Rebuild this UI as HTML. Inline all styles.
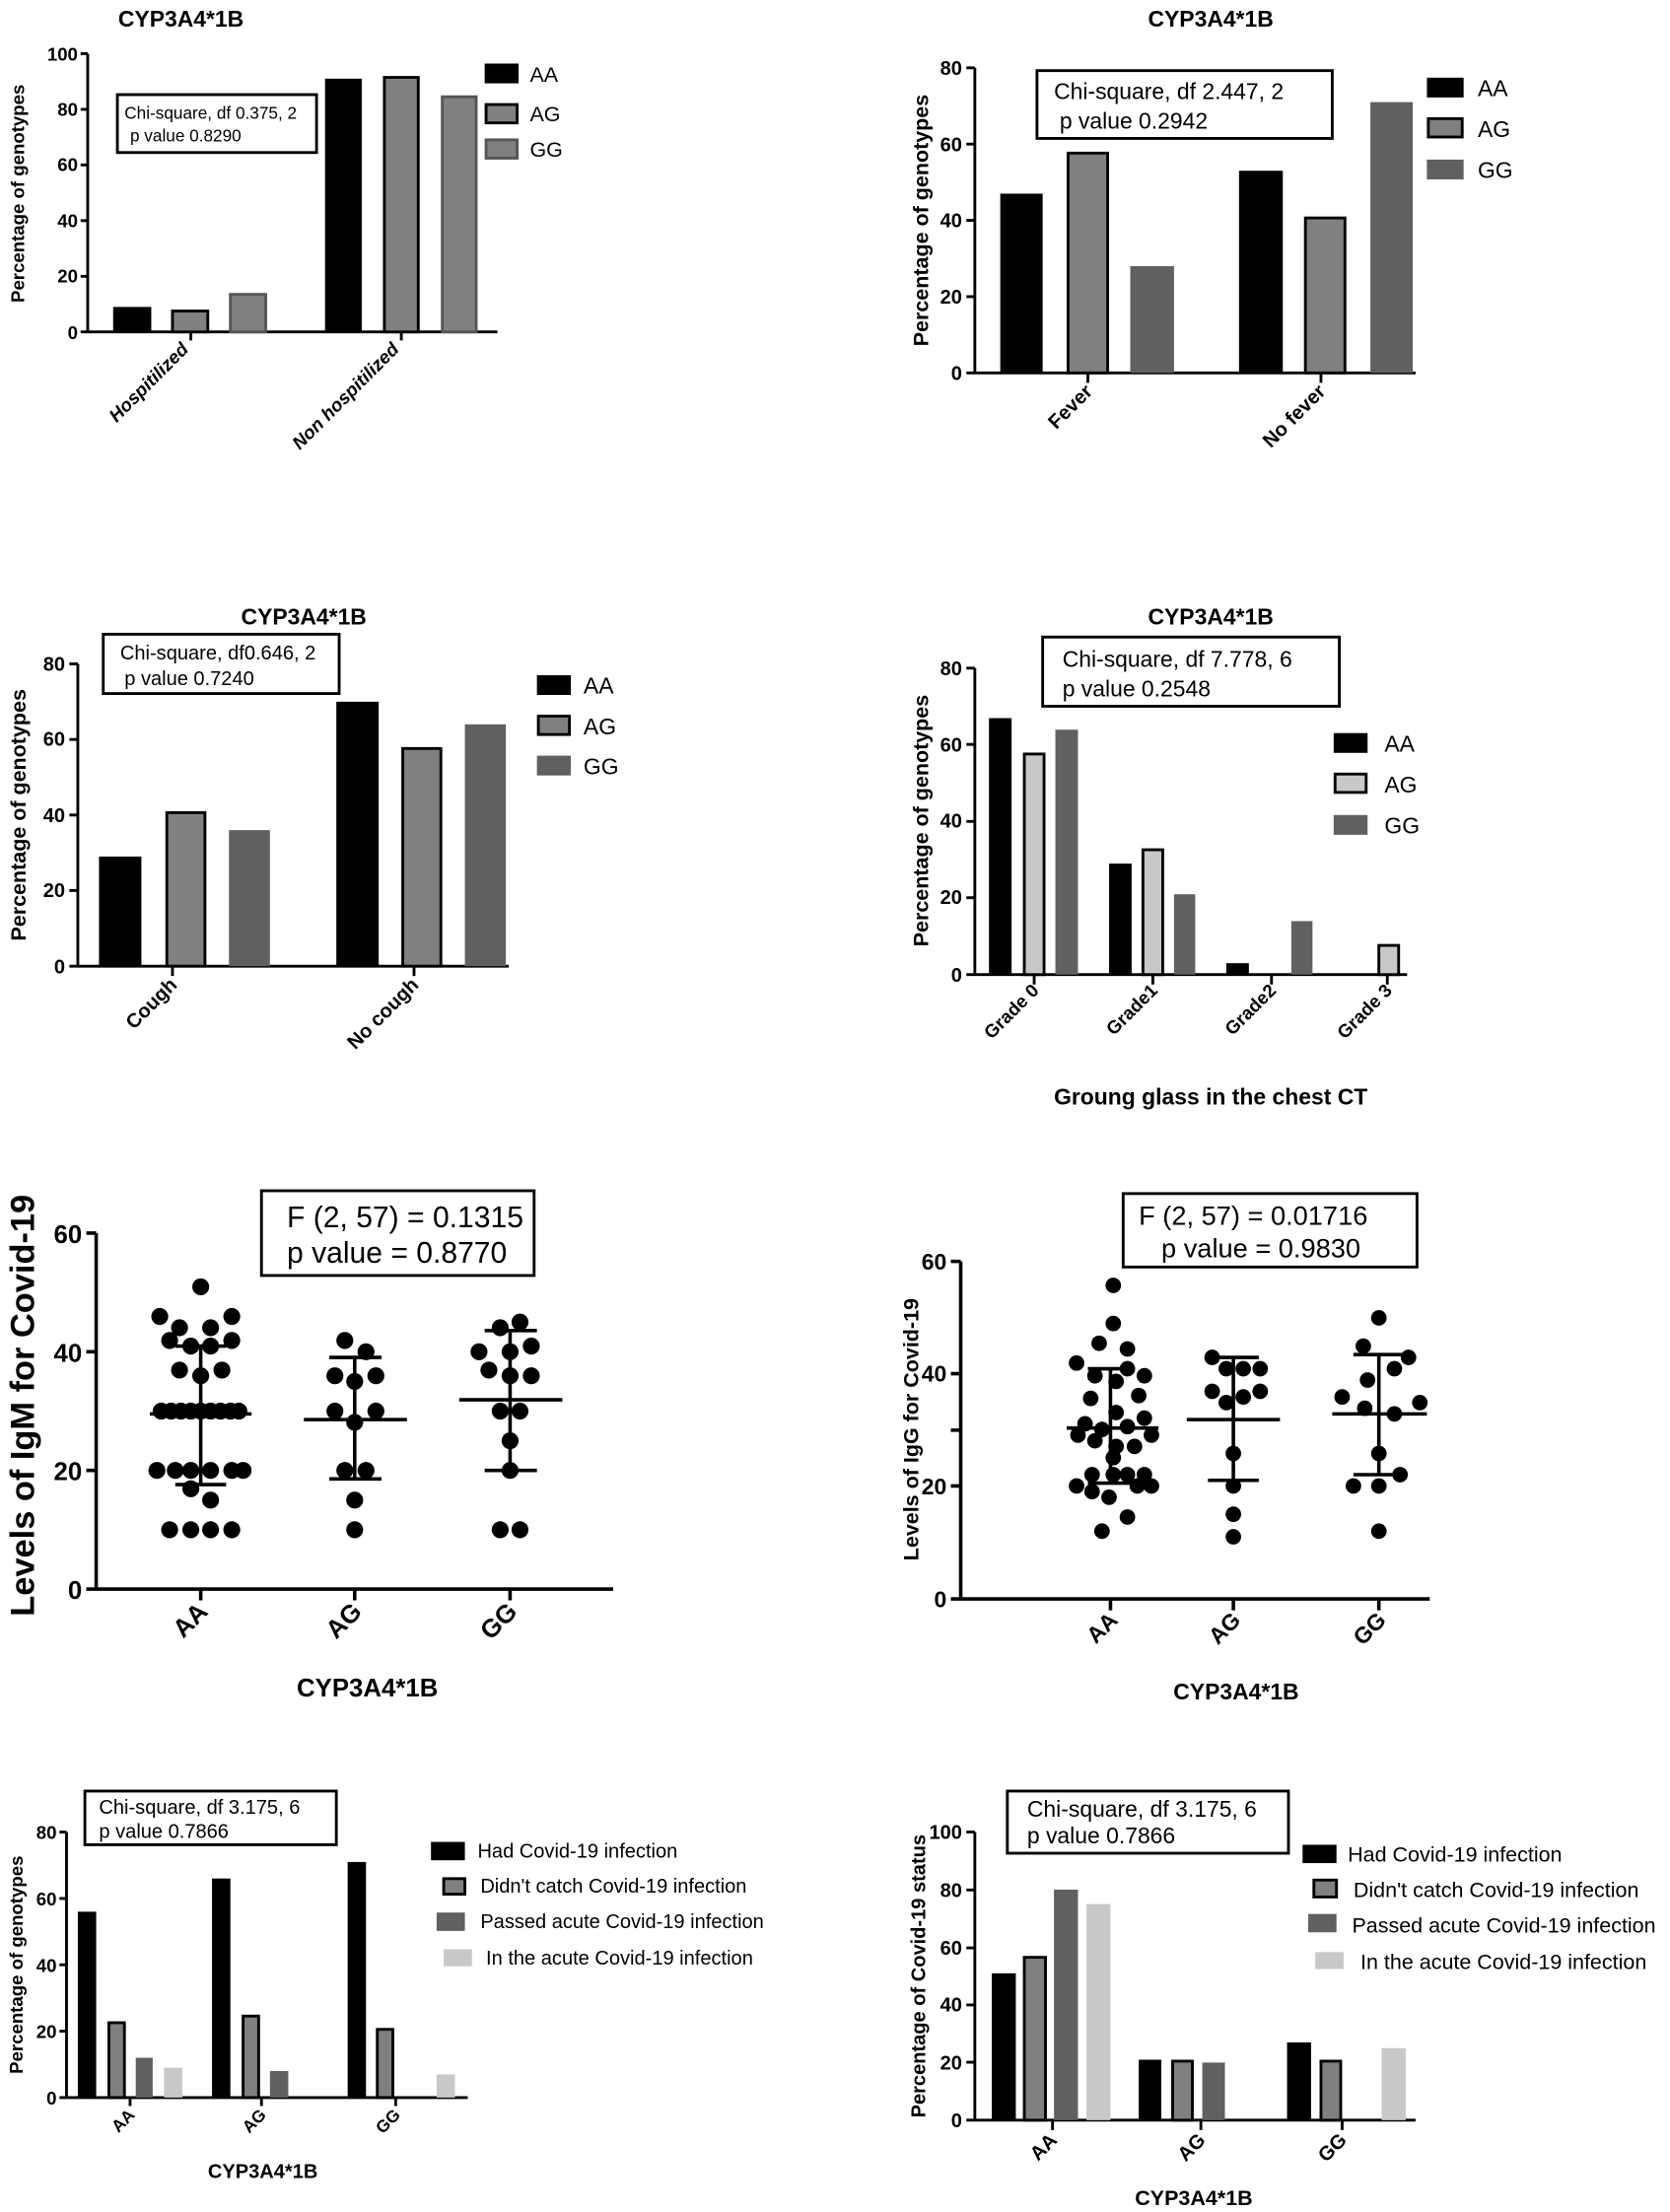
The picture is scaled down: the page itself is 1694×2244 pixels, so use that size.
<!DOCTYPE html>
<html><head><meta charset="utf-8"><style>
html,body{margin:0;padding:0;background:#fff}
svg{display:block}
text{font-family:"Liberation Sans",Arial,sans-serif;fill:#000}
.b{font-weight:bold}
</style></head><body>
<svg width="1694" height="2244" viewBox="0 0 1182 1566" xmlns="http://www.w3.org/2000/svg">
<rect width="1182" height="1566" fill="#fff"/>

<!-- Chart 1 -->
<text x="128" y="19" class="b" font-size="16" text-anchor="middle">CYP3A4*1B</text>
<g stroke="#000" stroke-width="2" fill="none">
<path d="M62 38V236M57 38H62M57 77.4H62M57 116.8H62M57 156.2H62M57 195.6H62M57 235H62M62 235H352M135 235V241M284 235V241"/>
</g>
<g font-size="13" class="b" text-anchor="end">
<text x="55" y="43">100</text><text x="55" y="82">80</text><text x="55" y="121">60</text><text x="55" y="161">40</text><text x="55" y="200">20</text><text x="55" y="240">0</text>
</g>
<text transform="translate(17,137) rotate(-90)" font-size="13" class="b" text-anchor="middle">Percentage of genotypes</text>
<rect x="80" y="217.3" width="27" height="17.7" fill="#000"/>
<rect x="122" y="220.2" width="25" height="14.8" fill="#808080" stroke="#000" stroke-width="2"/>
<rect x="163" y="208.4" width="25" height="26.6" fill="#808080" stroke="#555" stroke-width="2"/>
<rect x="230" y="55.7" width="26" height="179.3" fill="#000"/>
<rect x="272" y="54.8" width="24" height="180.2" fill="#808080" stroke="#000" stroke-width="2"/>
<rect x="313" y="68.5" width="24" height="166.5" fill="#808080" stroke="#555" stroke-width="2"/>
<rect x="83" y="67" width="141" height="41" fill="none" stroke="#000" stroke-width="2"/>
<text x="88" y="84" font-size="12">Chi-square, df  0.375, 2</text>
<text x="92" y="100" font-size="12">p value 0.8290</text>
<text transform="translate(134,248) rotate(-45)" font-size="13" class="b" font-style="italic" text-anchor="end">Hospitilized</text>
<text transform="translate(283,248) rotate(-45)" font-size="13" class="b" font-style="italic" text-anchor="end">Non hospitilized</text>
<rect x="343" y="45" width="24" height="14" fill="#000"/>
<rect x="344" y="74" width="22" height="13" fill="#808080" stroke="#000" stroke-width="2"/>
<rect x="344" y="99" width="22" height="13" fill="#808080" stroke="#555" stroke-width="2"/>
<g font-size="15"><text x="375" y="58">AA</text><text x="375" y="86">AG</text><text x="375" y="111">GG</text></g>

<!-- Chart 2 -->
<text x="857" y="19" class="b" font-size="16" text-anchor="middle">CYP3A4*1B</text>
<g stroke="#000" stroke-width="2" fill="none">
<path d="M690 48V265M684 48H690M684 102H690M684 156H690M684 210H690M684 264H690M690 264H1002M770 264V271M935 264V271"/>
</g>
<g font-size="14" class="b" text-anchor="end">
<text x="681" y="53">80</text><text x="681" y="107">60</text><text x="681" y="161">40</text><text x="681" y="215">20</text><text x="681" y="269">0</text>
</g>
<text transform="translate(657,156) rotate(-90)" font-size="15" class="b" text-anchor="middle">Percentage of genotypes</text>
<rect x="708" y="137.1" width="30" height="126.9" fill="#000"/>
<rect x="756" y="108.4" width="28" height="155.6" fill="#808080" stroke="#000" stroke-width="2"/>
<rect x="800" y="188.4" width="31" height="75.6" fill="#606060"/>
<rect x="877" y="120.9" width="31" height="143.1" fill="#000"/>
<rect x="924" y="154.3" width="28" height="109.7" fill="#808080" stroke="#000" stroke-width="2"/>
<rect x="970" y="72.3" width="30" height="191.7" fill="#606060"/>
<rect x="734" y="50" width="209" height="48" fill="none" stroke="#000" stroke-width="2"/>
<text x="746" y="70" font-size="16">Chi-square, df  2.447, 2</text>
<text x="750" y="91" font-size="16">p value   0.2942</text>
<text transform="translate(774,278) rotate(-45)" font-size="14" class="b" text-anchor="end">Fever</text>
<text transform="translate(939,278) rotate(-45)" font-size="14" class="b" text-anchor="end">No fever</text>
<rect x="1010" y="55" width="26" height="14" fill="#000"/>
<rect x="1011" y="84" width="24" height="13" fill="#808080" stroke="#000" stroke-width="2"/>
<rect x="1010" y="113" width="26" height="14" fill="#606060"/>
<g font-size="16"><text x="1046" y="68">AA</text><text x="1046" y="97">AG</text><text x="1046" y="126">GG</text></g>

<!-- Chart 3 -->
<text x="215" y="442" class="b" font-size="16" text-anchor="middle">CYP3A4*1B</text>
<g stroke="#000" stroke-width="2" fill="none">
<path d="M55 470V685M49 470H55M49 523.5H55M49 577H55M49 630.5H55M49 684H55M55 684H360M122 684V691M293 684V691"/>
</g>
<g font-size="14" class="b" text-anchor="end">
<text x="46" y="475">80</text><text x="46" y="528">60</text><text x="46" y="582">40</text><text x="46" y="635">20</text><text x="46" y="689">0</text>
</g>
<text transform="translate(18,577) rotate(-90)" font-size="15" class="b" text-anchor="middle">Percentage of genotypes</text>
<rect x="70" y="606.4" width="30" height="77.6" fill="#000"/>
<rect x="118" y="575.3" width="27" height="108.7" fill="#808080" stroke="#000" stroke-width="2"/>
<rect x="162" y="587.7" width="29" height="96.3" fill="#606060"/>
<rect x="238" y="496.8" width="30" height="187.2" fill="#000"/>
<rect x="285" y="529.9" width="27" height="154.1" fill="#808080" stroke="#000" stroke-width="2"/>
<rect x="329" y="512.8" width="29" height="171.2" fill="#606060"/>
<rect x="73" y="449" width="167" height="42" fill="none" stroke="#000" stroke-width="2"/>
<text x="85" y="467" font-size="14">Chi-square, df0.646, 2</text>
<text x="88" y="485" font-size="14">p value     0.7240</text>
<text transform="translate(126,698) rotate(-45)" font-size="14" class="b" text-anchor="end">Cough</text>
<text transform="translate(297,698) rotate(-45)" font-size="14" class="b" text-anchor="end">No cough</text>
<rect x="380" y="478" width="24" height="14" fill="#000"/>
<rect x="381" y="507" width="22" height="13" fill="#808080" stroke="#000" stroke-width="2"/>
<rect x="380" y="535" width="24" height="14" fill="#606060"/>
<g font-size="16"><text x="413" y="491">AA</text><text x="413" y="520">AG</text><text x="413" y="548">GG</text></g>

<!-- Chart 4 -->
<text x="857" y="442" class="b" font-size="16" text-anchor="middle">CYP3A4*1B</text>
<g stroke="#000" stroke-width="2" fill="none">
<path d="M690 473V691M684 473H690M684 527H690M684 581.5H690M684 635.5H690M684 690H690M690 690H996M732 690V697M816 690V697M900 690V697M982 690V697"/>
</g>
<g font-size="14" class="b" text-anchor="end">
<text x="681" y="478">80</text><text x="681" y="532">60</text><text x="681" y="586">40</text><text x="681" y="640">20</text><text x="681" y="695">0</text>
</g>
<text transform="translate(657,581) rotate(-90)" font-size="15" class="b" text-anchor="middle">Percentage of genotypes</text>
<rect x="700" y="508.4" width="16" height="181.6" fill="#000"/>
<rect x="725" y="533.8" width="14" height="156.2" fill="#c8c8c8" stroke="#000" stroke-width="2"/>
<rect x="747" y="516.6" width="16" height="173.4" fill="#606060"/>
<rect x="785" y="611.4" width="16" height="78.6" fill="#000"/>
<rect x="809" y="601.6" width="14" height="88.4" fill="#c8c8c8" stroke="#000" stroke-width="2"/>
<rect x="831" y="633.1" width="15" height="56.9" fill="#606060"/>
<rect x="868" y="681.9" width="16" height="8.1" fill="#000"/>
<rect x="914" y="652.1" width="15" height="37.9" fill="#606060"/>
<rect x="976" y="669.3" width="14" height="20.7" fill="#c8c8c8" stroke="#000" stroke-width="2"/>
<rect x="738" y="451" width="210" height="49" fill="none" stroke="#000" stroke-width="2"/>
<text x="752" y="472" font-size="16">Chi-square, df  7.778, 6</text>
<text x="752" y="493" font-size="16">p value   0.2548</text>
<g font-size="13" class="b" text-anchor="end">
<text transform="translate(736,702) rotate(-45)">Grade 0</text>
<text transform="translate(820,702) rotate(-45)">Grade1</text>
<text transform="translate(904,702) rotate(-45)">Grade2</text>
<text transform="translate(986,702) rotate(-45)">Grade 3</text>
</g>
<text x="857" y="782" font-size="16" class="b" text-anchor="middle">Groung glass in the chest CT</text>
<rect x="944" y="519" width="24" height="14" fill="#000"/>
<rect x="945" y="548" width="22" height="13" fill="#c8c8c8" stroke="#000" stroke-width="2"/>
<rect x="944" y="577" width="24" height="14" fill="#606060"/>
<g font-size="16"><text x="980" y="532">AA</text><text x="980" y="561">AG</text><text x="980" y="590">GG</text></g>

<!-- Chart 5 IgM -->
<g stroke="#000" stroke-width="2.5" fill="none">
<path d="M68 873V1126M61 873H68M61 957H68M61 1041H68M61 1125H68M68 1125H434M142 1125V1133M251 1125V1133M361 1125V1133"/>
</g>
<g font-size="18" class="b" text-anchor="end">
<text x="58" y="880">60</text><text x="58" y="964">40</text><text x="58" y="1048">20</text><text x="58" y="1132">0</text>
</g>
<text transform="translate(24,995) rotate(-90)" font-size="24" class="b" text-anchor="middle">Levels of IgM for Covid-19</text>
<g fill="#000">
<circle cx="142" cy="911" r="6"/>
<circle cx="113" cy="932" r="6"/><circle cx="164" cy="932" r="6"/>
<circle cx="127" cy="940" r="6"/><circle cx="149" cy="940" r="6"/>
<circle cx="120" cy="949" r="6"/><circle cx="164" cy="949" r="6"/>
<circle cx="135" cy="953" r="6"/><circle cx="149" cy="953" r="6"/>
<circle cx="127" cy="970" r="6"/><circle cx="157" cy="970" r="6"/>
<circle cx="142" cy="974" r="6"/>
<circle cx="114" cy="999" r="6"/><circle cx="121" cy="999" r="6"/><circle cx="128" cy="999" r="6"/><circle cx="135" cy="999" r="6"/><circle cx="142" cy="999" r="6"/><circle cx="149" cy="999" r="6"/><circle cx="156" cy="999" r="6"/><circle cx="163" cy="999" r="6"/><circle cx="169" cy="999" r="6"/>
<circle cx="111" cy="1041" r="6"/><circle cx="124" cy="1041" r="6"/><circle cx="135" cy="1041" r="6"/><circle cx="149" cy="1041" r="6"/><circle cx="164" cy="1041" r="6"/><circle cx="172" cy="1041" r="6"/>
<circle cx="135" cy="1054" r="6"/><circle cx="149" cy="1062" r="6"/>
<circle cx="120" cy="1083" r="6"/><circle cx="135" cy="1083" r="6"/><circle cx="149" cy="1083" r="6"/><circle cx="164" cy="1083" r="6"/>
<circle cx="244" cy="949" r="6"/><circle cx="259" cy="957" r="6"/><circle cx="237" cy="974" r="6"/><circle cx="266" cy="974" r="6"/><circle cx="251" cy="978" r="6"/><circle cx="237" cy="999" r="6"/><circle cx="266" cy="999" r="6"/><circle cx="251" cy="1007" r="6"/><circle cx="244" cy="1041" r="6"/><circle cx="259" cy="1041" r="6"/><circle cx="251" cy="1062" r="6"/><circle cx="251" cy="1083" r="6"/>
<circle cx="368" cy="936" r="6"/><circle cx="354" cy="940" r="6"/><circle cx="376" cy="953" r="6"/><circle cx="339" cy="957" r="6"/><circle cx="361" cy="957" r="6"/><circle cx="346" cy="970" r="6"/><circle cx="361" cy="974" r="6"/><circle cx="376" cy="974" r="6"/><circle cx="354" cy="999" r="6"/><circle cx="368" cy="999" r="6"/><circle cx="361" cy="1020" r="6"/><circle cx="361" cy="1041" r="6"/><circle cx="354" cy="1083" r="6"/><circle cx="368" cy="1083" r="6"/>
</g>
<g stroke="#000" stroke-width="2.5" fill="none">
<path d="M106 1001H178M142 953V1051M124 953H160M124 1051H160"/>
<path d="M215 1005H288M251 961V1047M233 961H270M233 1047H270"/>
<path d="M325 991H398M361 942V1041M343 942H380M343 1041H380"/>
</g>
<rect x="185" y="843" width="193" height="60" fill="none" stroke="#000" stroke-width="2"/>
<text x="203" y="869" font-size="21">F  (2, 57) = 0.1315</text>
<text x="203" y="894" font-size="21">p value   = 0.8770</text>
<g font-size="18" class="b" text-anchor="end">
<text transform="translate(148,1142) rotate(-45)">AA</text>
<text transform="translate(257,1142) rotate(-45)">AG</text>
<text transform="translate(367,1142) rotate(-45)">GG</text>
</g>
<text x="260" y="1201" font-size="18" class="b" text-anchor="middle">CYP3A4*1B</text>

<!-- Chart 6 IgG -->
<g stroke="#000" stroke-width="2.5" fill="none">
<path d="M680 893V1133M673 893H680M673 1012.5H680M673 1052H680M673 972.5H680M673 1132H680M680 1132H1012M786 1132V1140M873 1132V1140M976 1132V1140"/>
</g>
<g font-size="16" class="b" text-anchor="end">
<text x="670" y="899">60</text><text x="670" y="978">40</text><text x="670" y="1058">20</text><text x="670" y="1138">0</text>
</g>
<text transform="translate(650,1012) rotate(-90)" font-size="15" class="b" text-anchor="middle">Levels of IgG for Covid-19</text>
<g fill="#000">
<circle cx="788" cy="910" r="5.5"/><circle cx="788" cy="937" r="5.5"/><circle cx="778" cy="951" r="5.5"/><circle cx="798" cy="955" r="5.5"/>
<circle cx="762" cy="965" r="5.5"/><circle cx="798" cy="969" r="5.5"/><circle cx="775" cy="974" r="5.5"/><circle cx="810" cy="974" r="5.5"/>
<circle cx="790" cy="978" r="5.5"/><circle cx="806" cy="988" r="5.5"/><circle cx="772" cy="990" r="5.5"/><circle cx="790" cy="1000" r="5.5"/>
<circle cx="810" cy="1004" r="5.5"/><circle cx="768" cy="1008" r="5.5"/><circle cx="798" cy="1010" r="5.5"/><circle cx="780" cy="1012" r="5.5"/>
<circle cx="763" cy="1016" r="5.5"/><circle cx="815" cy="1016" r="5.5"/><circle cx="775" cy="1020" r="5.5"/><circle cx="790" cy="1024" r="5.5"/>
<circle cx="803" cy="1024" r="5.5"/><circle cx="788" cy="1032" r="5.5"/><circle cx="810" cy="1044" r="5.5"/><circle cx="773" cy="1044" r="5.5"/>
<circle cx="788" cy="1044" r="5.5"/><circle cx="798" cy="1044" r="5.5"/><circle cx="762" cy="1052" r="5.5"/><circle cx="805" cy="1052" r="5.5"/>
<circle cx="815" cy="1052" r="5.5"/><circle cx="773" cy="1056" r="5.5"/><circle cx="785" cy="1060" r="5.5"/><circle cx="798" cy="1074" r="5.5"/>
<circle cx="780" cy="1084" r="5.5"/>
<circle cx="858" cy="961" r="5.5"/><circle cx="868" cy="969" r="5.5"/><circle cx="880" cy="969" r="5.5"/><circle cx="892" cy="969" r="5.5"/><circle cx="858" cy="985" r="5.5"/><circle cx="880" cy="989" r="5.5"/><circle cx="892" cy="985" r="5.5"/><circle cx="868" cy="993" r="5.5"/><circle cx="873" cy="1029" r="5.5"/><circle cx="873" cy="1052" r="5.5"/><circle cx="873" cy="1072" r="5.5"/><circle cx="873" cy="1088" r="5.5"/>
<circle cx="976" cy="933" r="5.5"/><circle cx="965" cy="953" r="5.5"/><circle cx="997" cy="961" r="5.5"/><circle cx="987" cy="969" r="5.5"/><circle cx="968" cy="977" r="5.5"/><circle cx="950" cy="989" r="5.5"/><circle cx="1005" cy="993" r="5.5"/><circle cx="966" cy="997" r="5.5"/><circle cx="987" cy="1001" r="5.5"/><circle cx="976" cy="1029" r="5.5"/><circle cx="991" cy="1044" r="5.5"/><circle cx="958" cy="1052" r="5.5"/><circle cx="976" cy="1052" r="5.5"/><circle cx="976" cy="1084" r="5.5"/>
</g>
<g stroke="#000" stroke-width="2.5" fill="none">
<path d="M755 1011H820M786 969V1050M770 969H803M770 1050H803"/>
<path d="M840 1005H906M873 961V1048M855 961H891M855 1048H891"/>
<path d="M943 1001H1010M976 959V1044M958 959H994M958 1044H994"/>
</g>
<rect x="795" y="845" width="208" height="52" fill="none" stroke="#000" stroke-width="2"/>
<text x="806" y="867" font-size="19">F  (2, 57) = 0.01716</text>
<text x="822" y="890" font-size="19">p value   = 0.9830</text>
<g font-size="16" class="b" text-anchor="end">
<text transform="translate(792,1148) rotate(-45)">AA</text>
<text transform="translate(879,1148) rotate(-45)">AG</text>
<text transform="translate(982,1148) rotate(-45)">GG</text>
</g>
<text x="875" y="1203" font-size="16" class="b" text-anchor="middle">CYP3A4*1B</text>

<!-- Chart 7 -->
<g stroke="#000" stroke-width="2" fill="none">
<path d="M47 1297V1486M42 1297H47M42 1344H47M42 1391H47M42 1438H47M42 1485H47M47 1485H331M92 1485V1491M185 1485V1491M280 1485V1491"/>
</g>
<g font-size="13" class="b" text-anchor="end">
<text x="40" y="1302">80</text><text x="40" y="1349">60</text><text x="40" y="1396">40</text><text x="40" y="1443">20</text><text x="40" y="1490">0</text>
</g>
<text transform="translate(16,1391) rotate(-90)" font-size="13" class="b" text-anchor="middle">Percentage of genotypes</text>
<rect x="55" y="1353.4" width="13" height="131.6" fill="#000"/>
<rect x="77" y="1432" width="11" height="53" fill="#808080" stroke="#000" stroke-width="2"/>
<rect x="96" y="1456.8" width="12" height="28.2" fill="#606060"/>
<rect x="116" y="1463.9" width="13" height="21.1" fill="#c8c8c8"/>
<rect x="150" y="1329.9" width="13" height="155.1" fill="#000"/>
<rect x="172" y="1427.3" width="11" height="57.7" fill="#808080" stroke="#000" stroke-width="2"/>
<rect x="191" y="1466.2" width="13" height="18.8" fill="#606060"/>
<rect x="246" y="1318.2" width="13" height="166.8" fill="#000"/>
<rect x="267" y="1436.7" width="11" height="48.3" fill="#808080" stroke="#000" stroke-width="2"/>
<rect x="309" y="1468.6" width="13" height="16.4" fill="#c8c8c8"/>
<rect x="60" y="1268" width="178" height="38" fill="none" stroke="#000" stroke-width="2"/>
<text x="70" y="1284" font-size="14">Chi-square, df  3.175, 6</text>
<text x="70" y="1301" font-size="14">p value   0.7866</text>
<g font-size="12" class="b" text-anchor="end">
<text transform="translate(96,1498) rotate(-45)">AA</text>
<text transform="translate(189,1498) rotate(-45)">AG</text>
<text transform="translate(284,1498) rotate(-45)">GG</text>
</g>
<text x="186" y="1542" font-size="14" class="b" text-anchor="middle">CYP3A4*1B</text>
<rect x="305" y="1304" width="24" height="13" fill="#000"/>
<rect x="314" y="1330" width="15" height="11" fill="#808080" stroke="#000" stroke-width="2"/>
<rect x="309" y="1354" width="20" height="13" fill="#606060"/>
<rect x="314" y="1380" width="20" height="12" fill="#c8c8c8"/>
<g font-size="14"><text x="338" y="1315">Had Covid-19 infection</text><text x="340" y="1340">Didn't catch Covid-19 infection</text><text x="340" y="1365">Passed acute Covid-19 infection</text><text x="344" y="1391">In the acute Covid-19 infection</text></g>

<!-- Chart 8 -->
<g stroke="#000" stroke-width="2" fill="none">
<path d="M690 1297V1502M684 1297H690M684 1338H690M684 1379H690M684 1419.4H690M684 1460H690M684 1501H690M690 1501H1002M745 1501V1508M850 1501V1508M950 1501V1508"/>
</g>
<g font-size="14" class="b" text-anchor="end">
<text x="681" y="1302">100</text><text x="681" y="1343">80</text><text x="681" y="1384">60</text><text x="681" y="1424">40</text><text x="681" y="1465">20</text><text x="681" y="1506">0</text>
</g>
<text transform="translate(655,1399) rotate(-90)" font-size="14" class="b" text-anchor="middle">Percentage of Covid-19 status</text>
<rect x="702" y="1397" width="17" height="104" fill="#000"/>
<rect x="725" y="1385.7" width="15" height="115.3" fill="#808080" stroke="#000" stroke-width="2"/>
<rect x="746" y="1337.8" width="17" height="163.2" fill="#606060"/>
<rect x="769" y="1348" width="17" height="153" fill="#c8c8c8"/>
<rect x="806" y="1458.2" width="16" height="42.8" fill="#000"/>
<rect x="830" y="1459.2" width="14" height="41.8" fill="#808080" stroke="#000" stroke-width="2"/>
<rect x="851" y="1460.2" width="16" height="40.8" fill="#606060"/>
<rect x="911" y="1445.9" width="17" height="55.1" fill="#000"/>
<rect x="935" y="1459.2" width="14" height="41.8" fill="#808080" stroke="#000" stroke-width="2"/>
<rect x="978" y="1450" width="17" height="51" fill="#c8c8c8"/>
<rect x="713" y="1268" width="199" height="44" fill="none" stroke="#000" stroke-width="2"/>
<text x="727" y="1286" font-size="16">Chi-square, df  3.175, 6</text>
<text x="727" y="1305" font-size="16">p value   0.7866</text>
<g font-size="14" class="b" text-anchor="end">
<text transform="translate(749,1516) rotate(-45)">AA</text>
<text transform="translate(854,1516) rotate(-45)">AG</text>
<text transform="translate(954,1516) rotate(-45)">GG</text>
</g>
<text x="845" y="1561" font-size="15" class="b" text-anchor="middle">CYP3A4*1B</text>
<rect x="922" y="1306" width="24" height="13" fill="#000"/>
<rect x="930" y="1331" width="16" height="12" fill="#808080" stroke="#000" stroke-width="2"/>
<rect x="926" y="1355" width="20" height="13" fill="#606060"/>
<rect x="931" y="1382" width="20" height="12" fill="#c8c8c8"/>
<g font-size="15"><text x="954" y="1318">Had Covid-19 infection</text><text x="958" y="1343">Didn't catch Covid-19 infection</text><text x="957" y="1368">Passed acute Covid-19 infection</text><text x="963" y="1394">In the acute Covid-19 infection</text></g>
</svg>
</body></html>
